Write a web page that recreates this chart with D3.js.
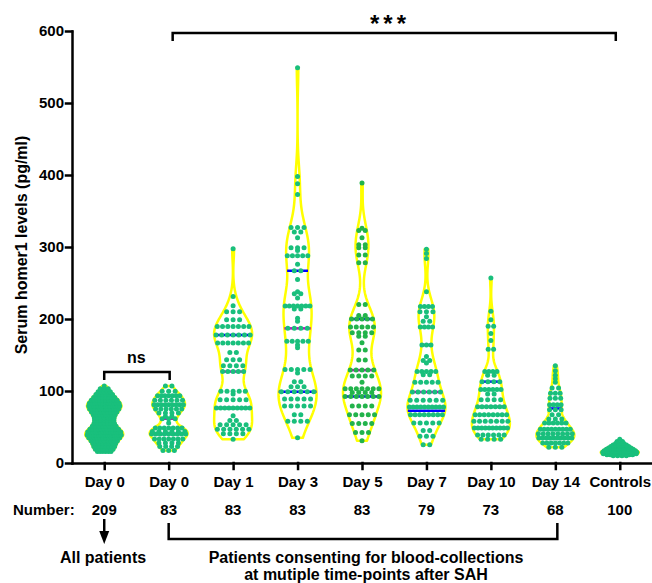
<!DOCTYPE html>
<html>
<head>
<meta charset="utf-8">
<title>Serum homer1 levels</title>
<script src="https://d3js.org/d3.v7.min.js"></script>
<style>
  body { margin: 0; background: #fff; }
  svg text { font-family: "Liberation Sans", Arial, sans-serif; font-weight: bold; fill: #000; }
</style>
</head>
<body>
<div id="chart"></div>
<script>
// groups along the x axis
const groups = ["day0all", "day0", "day1", "day3", "day5", "day7", "day10", "day14", "controls"];
const groupLabels = ["Day 0", "Day 0", "Day 1", "Day 3", "Day 5", "Day 7", "Day 10", "Day 14", "Controls"];
const groupCounts = [209, 83, 83, 83, 83, 79, 73, 68, 100];
const yTicks = [0, 100, 200, 300, 400, 500, 600];

// values (pg/ml), one per dot
const day0All = [
  107, 103, 103, 103, 99, 99, 99, 99, 99, 95, 95, 95, 95, 95, 95,
  91, 91, 91, 91, 91, 91, 91, 91, 87, 87, 87, 87, 87, 87, 87, 87, 87, 87,
  83, 83, 83, 83, 83, 83, 83, 83, 83, 83, 83, 83,
  79, 79, 79, 79, 79, 79, 79, 79, 79, 79, 79, 79, 79, 79,
  75, 75, 75, 75, 75, 75, 75, 75, 75, 75, 75, 75,
  71, 71, 71, 71, 71, 71, 71, 71, 71, 67, 67, 67, 67, 67, 67, 67, 67,
  63, 63, 63, 63, 63, 63, 63, 59, 59, 59, 59, 59, 59, 59, 55, 55, 55, 55, 55, 55, 55,
  51, 51, 51, 51, 51, 51, 51, 51, 47, 47, 47, 47, 47, 47, 47, 47, 47, 47, 47,
  43, 43, 43, 43, 43, 43, 43, 43, 43, 43, 43, 43, 43, 43,
  39, 39, 39, 39, 39, 39, 39, 39, 39, 39, 39, 39, 39, 39, 39, 39,
  35, 35, 35, 35, 35, 35, 35, 35, 35, 35, 35, 35, 31, 31, 31, 31, 31, 31, 31, 31, 31,
  27, 27, 27, 27, 27, 27, 27, 27, 23, 23, 23, 23, 23, 23, 23, 23,
  19, 19, 19, 19, 19, 19, 19, 19, 16, 16, 16, 16, 16, 16
];
const day0 = [
  107, 107, 99.5, 99.5, 99.5, 93.5, 93.5, 93.5, 93.5, 93.5, 93.5, 93.5,
  87, 87, 87, 87, 87, 87, 81, 81, 81, 81, 81, 81, 81, 81, 81,
  75, 75, 75, 75, 75, 75, 69.4, 69.4, 69.4, 69.4, 64.7, 64.7, 61.5, 61.5, 61.5, 55.5,
  48.6, 48.6, 48.6, 48.6, 48.6, 48.6, 48.6, 43.9, 43.9, 43.9, 43.9, 43.9, 43.9,
  40.3, 40.3, 40.3, 40.3, 40.3, 40.3, 40.3, 40.3, 40.3, 33.3, 33.3, 33.3, 33.3, 33.3, 33.3, 33.3,
  27.8, 27.8, 27.8, 27.8, 23, 23, 23, 23, 17.5, 17.5, 17.5
];
const day1 = [
  297.6, 231.4, 218.5, 210, 210, 210, 199, 199, 199,
  189.7, 189.7, 189.7, 189.7, 189.7, 189.7, 189.7, 177.8, 177.8, 177.8, 177.8, 177.8, 177.8, 177.8,
  166.7, 166.7, 166.7, 166.7, 166.7, 166.7, 166.7, 153.6, 153.6, 143.5, 143.5, 143.5, 135, 135, 135, 135,
  127, 127, 127, 127, 127, 99.5, 99.5, 99.5, 99.5, 99.5, 96, 88, 88, 88, 88, 88,
  76.4, 76.4, 76.4, 76.4, 76.4, 76.4, 76.4, 76.4, 76.4, 65.7, 59, 59,
  53, 53, 53, 53, 53, 47, 47, 47, 47, 47, 47, 40.7, 40.7, 40.7, 40.7, 33
];
const day3 = [
  549, 398, 388, 373, 327, 327, 327, 321, 321, 313,
  299, 299, 299, 295, 288, 288, 288, 288, 288, 276, 267, 267, 255,
  238, 235, 235, 229, 218, 218, 218, 218, 218, 218, 218, 214, 214, 201, 197,
  187, 187, 187, 187, 169, 169, 169, 169, 169, 164, 160,
  130, 130, 130, 130, 130, 125, 113, 113, 106, 106, 106,
  99, 99, 99, 99, 99, 99, 89, 89, 89, 89, 89, 79, 79, 79, 79, 79, 67, 67, 58, 58, 58, 58, 35
];
const day5 = [
  389, 326, 323, 323, 313, 303, 303, 299, 299, 289, 289, 278, 278,
  220, 220, 205, 205, 200, 200, 200, 200, 200, 189, 189, 189, 189, 189,
  181, 181, 181, 181, 176, 176, 167, 157, 157, 143, 143,
  129, 129, 129, 129, 129, 121, 121, 121, 121, 112, 103, 103, 103, 103, 103, 103, 103,
  98, 98, 98, 98, 92.5, 92.5, 92.5, 92.5, 92.5, 92.5, 92.5, 79, 79, 79, 79,
  67, 67, 67, 67, 67, 55, 55, 55, 55, 42.5, 42.5, 42.5, 31
];
const day7 = [
  297, 291, 284, 238, 217.5, 217.5, 217.5, 217.5, 210, 210, 210, 203, 197, 197, 189, 189, 189, 189,
  164, 164, 164, 148, 142.5, 142.5, 139, 127, 127, 127, 127, 127, 122.7, 122.7,
  112, 112, 112, 112, 112, 98.6, 98.6, 98.6, 98.6, 98.6, 98.6, 87, 87, 87, 87, 87, 87,
  77.8, 77.8, 77.8, 77.8, 77.8, 77.8, 77.8, 77.8, 77.8, 77.8, 67, 67, 67, 67, 67, 67, 67, 67,
  55.5, 55.5, 55.5, 55.5, 55.5, 45, 45, 37, 37, 37, 25.4, 25.4
];
const day10 = [
  257, 210.6, 199, 190, 190, 180, 170, 158, 158,
  127, 127, 127, 127, 122, 122, 113, 113, 113, 113, 102, 102, 102, 102, 102, 102, 96, 96, 88, 88, 88, 88,
  78, 78, 78, 78, 78, 78, 78, 67, 67, 67, 67, 67, 67, 67, 67, 58, 58, 58, 58, 58, 58, 58,
  48.6, 48.6, 48.6, 48.6, 48.6, 48.6, 48.6, 48.6, 48.6, 48.6, 39, 39, 39, 39, 39, 39, 33, 33, 33, 33
];
const day14 = [
  135, 128, 122, 117, 112, 104, 104, 97, 97, 97, 90, 90, 90, 81, 81, 81, 81,
  74, 74, 74, 67, 67, 61, 61, 61, 55.5, 55.5, 55.5, 55.5, 55.5, 55.5,
  47, 47, 47, 47, 47, 47, 47, 47, 47, 40.7, 40.7, 40.7, 40.7, 40.7, 40.7, 40.7, 40.7,
  34.7, 34.7, 34.7, 34.7, 34.7, 34.7, 34.7, 34.7, 34.7, 34.7, 27.8, 27.8, 27.8, 27.8, 27.8, 27.8, 27.8, 22, 22, 22
];
const controls = [
  33, 30, 30, 27, 27, 27, 27, 25, 25, 25, 25, 25, 25, 23, 23, 23, 23, 23, 23, 23, 23,
  21, 21, 21, 21, 21, 21, 21, 21, 21, 21, 19, 19, 19, 19, 19, 19, 19, 19, 19, 19, 19, 19,
  17, 17, 17, 17, 17, 17, 17, 17, 17, 17, 17, 17, 17, 17,
  15, 15, 15, 15, 15, 15, 15, 15, 15, 15, 15, 15, 15, 15, 15, 15,
  13, 13, 13, 13, 13, 13, 13, 13, 13, 13, 13, 13, 13, 13, 11.5, 11.5, 11.5, 11.5, 11.5, 11.5, 11.5, 11.5, 11.5,
  10, 10, 10, 10
];
const groupValues = [day0All, day0, day1, day3, day5, day7, day10, day14, controls];
const dotColors = ["#19bf7c", "#19bf7c", "#19bf7c", "#19bf7c", "#22b34b", "#19bf7c", "#19bf7c", "#19bf7c", "#19bf7c"];

const W = 652, H = 583;
const maxHalf = 19;

const svg = d3.select("#chart").append("svg")
    .attr("width", W)
    .attr("height", H);

const x = d3.scalePoint()
    .domain(groups)
    .range([72, 652])
    .padding(0.5);

const y = d3.scaleLinear()
    .domain([0, 600])
    .range([463, 31]);

// gaussian kernel density
function kde(values, bw) {
  return function(t) {
    return d3.mean(values, v => Math.exp(-0.5 * ((t - v) / bw) ** 2)) / (bw * Math.sqrt(2 * Math.PI));
  };
}

groups.forEach(function(g, gi) {
  const vals = groupValues[gi].slice().sort(d3.ascending);
  const n = vals.length;
  const sd = d3.deviation(vals);
  const iqr = d3.quantileSorted(vals, 0.75) - d3.quantileSorted(vals, 0.25);
  const bw = 0.7 * 0.9 * Math.min(sd, iqr / 1.34) * Math.pow(n, -0.2);
  const dens = kde(vals, bw);
  const lo = vals[0], hi = vals[n - 1];
  const grid = d3.range(0, 161).map(i => lo + (hi - lo) * i / 160);
  const dmax = d3.max(grid, dens);
  const half = t => dens(t) / dmax * maxHalf;
  const cx = x(g);

  // violin outline
  const area = d3.area()
      .y(t => y(t))
      .x0(t => cx - half(t))
      .x1(t => cx + half(t));
  svg.append("path")
      .attr("d", area(grid))
      .attr("fill", "#fff")
      .attr("stroke", "#ffff00")
      .attr("stroke-width", 2.5)
      .attr("stroke-linejoin", "round");

  // quartiles and median
  const stats = [
    { v: d3.quantileSorted(vals, 0.25), c: "#0000ff" },
    { v: d3.quantileSorted(vals, 0.75), c: "#0000ff" },
    { v: d3.quantileSorted(vals, 0.5), c: "#c000c0" }
  ];
  svg.append("g").selectAll("line")
      .data(stats).enter()
      .append("line")
      .attr("x1", d => cx - half(d.v))
      .attr("x2", d => cx + half(d.v))
      .attr("y1", d => y(d.v))
      .attr("y2", d => y(d.v))
      .attr("stroke", d => d.c)
      .attr("stroke-width", 2.5);

  // dots: rows of equal values spread inside the violin
  const pts = [];
  d3.groups(vals, v => v).forEach(function([v, arr]) {
    const k = arr.length;
    const hw = Math.max(half(v), 3);
    const step = k > 1 ? Math.min(6.5, 2 * hw * 0.9 / (k - 1)) : 0;
    arr.forEach((_, i) => pts.push({ v: v, dx: (i - (k - 1) / 2) * step }));
  });
  svg.append("g").selectAll("circle")
      .data(pts).enter()
      .append("circle")
      .attr("cx", d => cx + d.dx)
      .attr("cy", d => y(d.v))
      .attr("r", 2.5)
      .attr("fill", dotColors[gi]);
});

// axes
const yAxis = svg.append("g")
    .attr("transform", "translate(72,0)")
    .call(d3.axisLeft(y).tickValues(yTicks).tickSize(6).tickSizeOuter(0).tickPadding(2));
const xAxis = svg.append("g")
    .attr("transform", "translate(0,463)")
    .call(d3.axisBottom(x).tickSize(6).tickSizeOuter(0).tickPadding(7)
      .tickFormat((d, i) => groupLabels[i]));
[yAxis, xAxis].forEach(function(a) {
  a.selectAll("path, line").attr("stroke", "#000").attr("stroke-width", 2.5).attr("stroke-linecap", "square");
  a.selectAll("text").attr("font-size", 15).attr("fill", "#000");
});

svg.append("text")
    .attr("transform", "translate(27,245) rotate(-90)")
    .attr("text-anchor", "middle")
    .attr("font-size", 16)
    .text("Serum homer1 levels (pg/ml)");

// significance brackets
svg.append("path")
    .attr("d", "M" + x("day0all") + ",380V372H" + (x("day0") + 1) + "V380")
    .attr("fill", "none").attr("stroke", "#000").attr("stroke-width", 2.5);
svg.append("text")
    .attr("x", (x("day0all") + x("day0")) / 2).attr("y", 363)
    .attr("text-anchor", "middle").attr("font-size", 16)
    .text("ns");

svg.append("path")
    .attr("d", "M" + (x("day0") + 4) + ",41V33H" + (x("controls") - 4) + "V41")
    .attr("fill", "none").attr("stroke", "#000").attr("stroke-width", 2.5);
svg.append("text")
    .attr("x", 390).attr("y", 32)
    .attr("text-anchor", "middle").attr("font-size", 24).attr("letter-spacing", 4)
    .text("***");

// numbers under the axis
svg.append("text")
    .attr("x", 13).attr("y", 515)
    .attr("font-size", 15)
    .text("Number:");
svg.append("g").selectAll("text")
    .data(groups).enter()
    .append("text")
    .attr("x", d => x(d))
    .attr("y", 515)
    .attr("text-anchor", "middle")
    .attr("font-size", 15)
    .text((d, i) => groupCounts[i]);

// arrow to "All patients"
const ax = x("day0all");
svg.append("line")
    .attr("x1", ax).attr("x2", ax).attr("y1", 519).attr("y2", 533)
    .attr("stroke", "#000").attr("stroke-width", 2.5);
svg.append("path")
    .attr("d", "M" + (ax - 5) + ",531L" + (ax + 5) + ",531L" + ax + ",544Z")
    .attr("fill", "#000");
svg.append("text")
    .attr("x", 103).attr("y", 563)
    .attr("text-anchor", "middle").attr("font-size", 16)
    .text("All patients");

// bracket for repeated sampling
svg.append("path")
    .attr("d", "M" + x("day0") + ",523V539H" + (x("day14") + 2) + "V523")
    .attr("fill", "none").attr("stroke", "#000").attr("stroke-width", 2.5);
svg.append("text")
    .attr("x", 366).attr("y", 563)
    .attr("text-anchor", "middle").attr("font-size", 16)
    .text("Patients consenting for blood-collections");
svg.append("text")
    .attr("x", 366).attr("y", 580)
    .attr("text-anchor", "middle").attr("font-size", 16)
    .text("at mutiple time-points after SAH");
</script>
</body>
</html>
